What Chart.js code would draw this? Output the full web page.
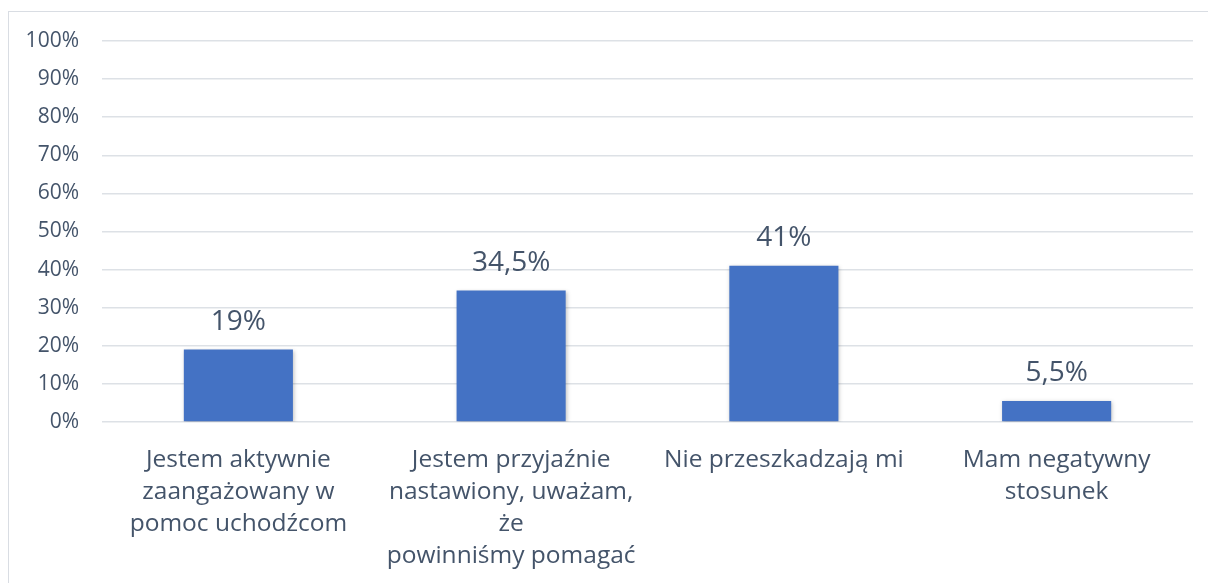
<!DOCTYPE html>
<html>
<head>
<meta charset="utf-8">
<script src="https://cdn.jsdelivr.net/npm/chart.js@4"></script>
<style>
  html, body { margin: 0; padding: 0; background: #fff; overflow: hidden; }
  #frame { position: absolute; left: 8px; top: 11px; width: 1300px; height: 700px;
           border-left: 1.5px solid #D9DDE3; border-top: 1.5px solid #D9DDE3; }
  #wrap { position: absolute; left: 0; top: 0; width: 1208px; height: 583px; }
</style>
</head>
<body>
<div id="frame"></div>
<div id="wrap"><canvas id="c" width="1208" height="583"></canvas></div>
<script>
const categories = [
  ["Jestem aktywnie", "zaangażowany w", "pomoc uchodźcom"],
  ["Jestem przyjaźnie", "nastawiony, uważam,", "że", "powinniśmy pomagać"],
  "Nie przeszkadzają mi",
  ["Mam negatywny", "stosunek"]
];
const values = [19, 34.5, 41, 5.5];
const valueLabels = ["19%", "34,5%", "41%", "5,5%"];
const yTicks = [0, 10, 20, 30, 40, 50, 60, 70, 80, 90, 100];

const textColor = "#44546A";
const gridColor = "#DDE1E6";
const barColor = "#4472C4";

const valueLabelPlugin = {
  id: "valueLabels",
  afterDatasetsDraw(chart) {
    const ctx = chart.ctx;
    const meta = chart.getDatasetMeta(0);
    ctx.save();
    ctx.font = "28px 'Open Sans'";
    ctx.fillStyle = textColor;
    ctx.textAlign = "center";
    ctx.textBaseline = "alphabetic";
    meta.data.forEach((bar, i) => {
      ctx.fillText(valueLabels[i], bar.x, bar.y - 20);
    });
    ctx.restore();
  }
};

const shadowPlugin = {
  id: "barShadow",
  beforeDatasetDraw(chart) {
    const ctx = chart.ctx;
    ctx.save();
    ctx.shadowColor = "rgba(0,0,0,0.25)";
    ctx.shadowBlur = 4;
    ctx.shadowOffsetX = 1;
    ctx.shadowOffsetY = 1;
  },
  afterDatasetDraw(chart) {
    chart.ctx.restore();
  }
};

new Chart(document.getElementById("c"), {
  type: "bar",
  data: {
    labels: categories,
    datasets: [{
      data: values,
      backgroundColor: barColor,
      borderWidth: 0,
      categoryPercentage: 1.0,
      barPercentage: 0.4
    }]
  },
  options: {
    responsive: false,
    animation: false,
    devicePixelRatio: 1,
    layout: { padding: { top: 41, right: 15, left: 0, bottom: 0 } },
    plugins: {
      legend: { display: false },
      tooltip: { enabled: false }
    },
    scales: {
      x: {
        grid: { display: false, drawTicks: false },
        border: { display: false },
        ticks: {
          color: textColor,
          font: { family: "'Open Sans'", size: 24.5, lineHeight: 1.31 },
          padding: 22,
          maxRotation: 0,
          autoSkip: false
        },
        afterFit(scale) { scale.height = 161; }
      },
      y: {
        min: 0,
        max: 100,
        afterBuildTicks(scale) { scale.ticks = yTicks.map(v => ({ value: v })); },
        grid: { color: gridColor, lineWidth: 1.5, drawTicks: false },
        border: { display: false },
        ticks: {
          color: textColor,
          font: { family: "'Open Sans'", size: 21 },
          padding: 23,
          callback: v => v + "%"
        },
        afterFit(scale) { scale.width = 102; }
      }
    }
  },
  plugins: [shadowPlugin, valueLabelPlugin]
});
</script>
</body>
</html>
